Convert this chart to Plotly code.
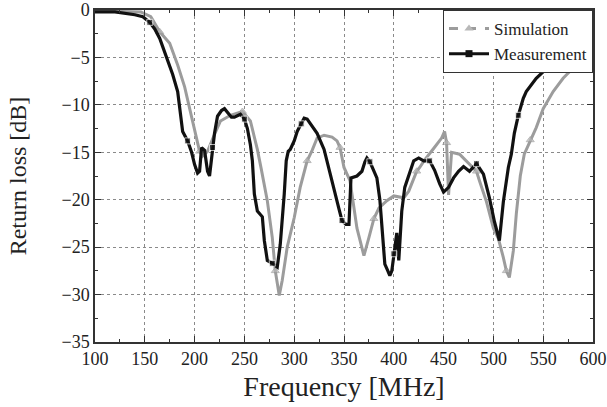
import plotly.graph_objects as go

meas_f = [100,120,140,148,155,160,165,170,175,178,183,186,188,193,197,200,203,205,207,210,213,215,218,220,223,227,230,233,237,240,246,250,253,256,258,260,263,268,270,273,278,283,286,290,292,294,296,300,303,307,310,313,318,323,330,336,340,345,348,352,355,356,357,363,368,371,373,376,380,383,386,388,391,394,396,398,400,403,405,408,411,416,420,425,430,436,441,446,450,455,460,465,470,476,483,490,496,501,506,510,515,518,521,525,530,533,543,553,561,573,585]
meas_db = [-0.2,-0.2,-0.5,-0.7,-1.3,-2.0,-3.0,-4.4,-5.8,-6.8,-8.6,-11.0,-12.8,-13.8,-15.0,-16.3,-17.2,-17.0,-14.5,-14.8,-17.0,-17.5,-14.5,-13.0,-11.2,-10.6,-10.4,-10.8,-11.3,-11.3,-11.0,-11.5,-12.5,-14.2,-15.9,-19.4,-21.2,-21.8,-24.3,-26.4,-26.7,-27.1,-24.7,-19.4,-15.9,-14.9,-14.7,-13.8,-12.8,-12.0,-11.4,-11.5,-12.2,-13.0,-14.7,-17.3,-19.1,-21.0,-22.2,-22.6,-22.6,-19.0,-17.7,-17.5,-17.0,-16.0,-15.6,-16.0,-17.0,-17.7,-20.0,-23.0,-26.8,-27.5,-28.0,-27.5,-25.7,-23.5,-26.4,-21.2,-18.7,-17.0,-15.9,-15.6,-15.9,-15.9,-16.9,-18.3,-19.2,-18.7,-17.7,-17.0,-16.5,-17.0,-16.2,-17.3,-19.8,-22.3,-24.3,-20.2,-16.6,-15.2,-13.0,-11.1,-9.3,-8.6,-7.2,-6.2,-5.3,-4.1,-3.0]

sim_f = [100,146,156,165,175,183,190,195,200,205,208,213,220,226,236,248,256,263,267,273,278,281,285,288,293,300,306,313,318,323,330,338,343,346,350,356,363,370,375,380,385,393,400,410,415,423,426,431,440,448,451,453,455,457,458,466,476,483,486,493,500,505,510,513,516,520,523,527,531,537,543,550,560,570,583,593,600]
sim_db = [-0.1,-0.2,-0.7,-2.3,-3.5,-5.8,-8.1,-10.4,-12.8,-14.9,-15.4,-14.9,-13.1,-11.7,-11.1,-10.7,-11.7,-14.7,-16.8,-20.1,-24.0,-27.5,-30.1,-28.5,-25.0,-21.9,-18.7,-15.9,-14.8,-13.5,-13.2,-13.4,-13.8,-14.5,-16.6,-18.0,-23.0,-25.9,-24.0,-22.0,-20.9,-20.1,-19.6,-19.8,-19.1,-17.0,-16.6,-15.8,-14.6,-13.5,-12.8,-14.0,-19.5,-17.0,-15.0,-15.2,-16.2,-17.0,-18.0,-20.2,-23.0,-24.1,-26.1,-27.5,-28.2,-25.4,-21.5,-17.5,-15.2,-13.7,-12.4,-10.4,-8.6,-7.2,-5.8,-4.9,-4.6]

x_ticks = [100,150,200,250,300,350,400,450,500,550,600]
y_ticks = [0,-5,-10,-15,-20,-25,-30,-35]

SIM_COLOR = "#9c9c9c"
SIM_MARK = "#b8b8b8"
MEAS_COLOR = "#111111"

sim_sizes = [7 if i % 6 == 3 else 0 for i in range(len(sim_f))]
meas_sizes = [6 if i % 9 == 4 else 0 for i in range(len(meas_f))]

fig = go.Figure()
fig.add_trace(go.Scatter(
    x=sim_f, y=sim_db, name="Simulation", mode="lines+markers", showlegend=False,
    line=dict(color=SIM_COLOR, width=3),
    marker=dict(symbol="triangle-up", size=sim_sizes, color=SIM_MARK),
))
fig.add_trace(go.Scatter(
    x=meas_f, y=meas_db, name="Measurement", mode="lines+markers", showlegend=False,
    line=dict(color=MEAS_COLOR, width=3.2),
    marker=dict(symbol="square", size=meas_sizes, color=MEAS_COLOR),
))
# legend entries
fig.add_trace(go.Scatter(
    x=[None], y=[None], name="Simulation", mode="lines+markers",
    line=dict(color=SIM_COLOR, width=3, dash="dash"),
    marker=dict(symbol="triangle-up", size=8, color=SIM_MARK),
))
fig.add_trace(go.Scatter(
    x=[None], y=[None], name="Measurement", mode="lines+markers",
    line=dict(color=MEAS_COLOR, width=3),
    marker=dict(symbol="square", size=7, color=MEAS_COLOR),
))

font_family = "Liberation Serif"
axis_common = dict(
    showline=True, linecolor="#333", linewidth=1.5, mirror="allticks",
    ticks="inside", ticklen=6, tickcolor="#333",
    showgrid=True, gridcolor="#8a8a8a", griddash="3px,3px", gridwidth=1,
    zeroline=False, automargin=False, ticklabeloverflow="allow",
    tickfont=dict(family=font_family, size=18, color="#222"),
)
fig.update_xaxes(
    range=[100, 600], tickvals=x_ticks,
    minor=dict(ticks="inside", ticklen=3, dtick=25, tick0=100, tickcolor="#333", showgrid=False),
    title=dict(text="Frequency [MHz]", font=dict(family=font_family, size=28, color="#222"), standoff=8),
    **axis_common,
)
fig.update_yaxes(
    range=[-35, 0], tickvals=y_ticks,
    minor=dict(ticks="inside", ticklen=3, dtick=2.5, tick0=0, tickcolor="#333", showgrid=False),
    title=dict(text="Return loss [dB]", font=dict(family=font_family, size=24, color="#222"), standoff=28),
    **axis_common,
)

fig.update_layout(
    width=607, height=407,
    margin=dict(l=95, r=14, t=10, b=65),
    paper_bgcolor="white", plot_bgcolor="white",
    showlegend=True,
    legend=dict(
        x=1, y=1, xanchor="right", yanchor="top",
        bgcolor="white", bordercolor="#333", borderwidth=1,
        font=dict(family=font_family, size=17, color="#222"),
        tracegroupgap=0, itemwidth=40,
    ),
)

fig.write_html("out.html")
